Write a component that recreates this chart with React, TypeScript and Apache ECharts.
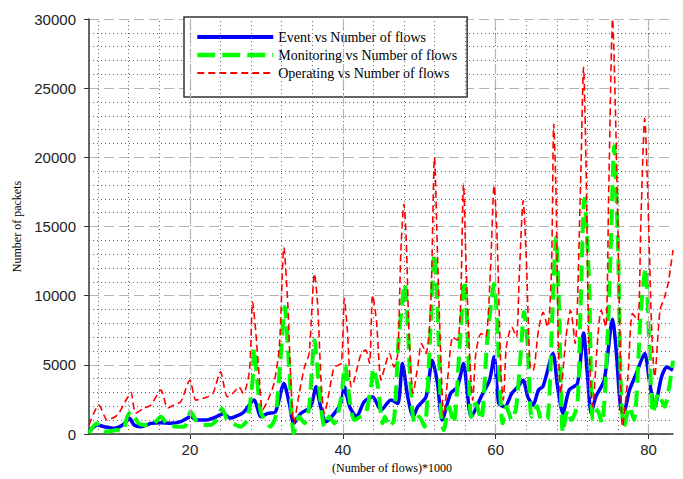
import React, { useEffect, useRef } from "react";
import * as echarts from "echarts";

// x values are (Number of flows)/1000
const eventFlows = [6.8, 7.9, 8.8, 10.1, 11.2, 12.1, 12.7, 13.6, 14.9, 16.2, 17.5, 18.8, 20.1, 20.9, 22.2, 23.5, 24.4, 25.2, 26.1, 27.0, 28.4, 29.3, 30.2, 31.2, 32.3, 33.0, 33.6, 34.5, 35.8, 36.5, 37.1, 37.8, 38.9, 39.8, 40.2, 40.9, 41.8, 42.8, 43.9, 45.0, 46.3, 47.2, 47.8, 48.5, 49.2, 49.8, 50.9, 51.7, 52.4, 53.0, 54.1, 55.0, 55.8, 56.3, 56.8, 58.1, 59.2, 59.8, 60.4, 61.2, 62.1, 62.9, 63.6, 64.2, 64.9, 65.6, 66.2, 67.5, 68.1, 68.8, 69.6, 70.7, 71.5, 72.0, 72.5, 73.1, 74.2, 75.3, 75.8, 76.4, 76.8, 77.5, 78.4, 79.5, 80.1, 80.8, 81.7, 82.4, 83.2];
const eventPackets = [170, 650, 530, 410, 650, 1130, 650, 530, 770, 820, 770, 890, 1250, 1010, 1010, 1250, 1490, 1150, 1300, 1550, 2450, 1250, 1490, 1610, 3650, 2210, 770, 1490, 1970, 3410, 1970, 890, 1490, 2330, 3410, 1970, 1250, 2330, 2690, 1730, 2450, 2210, 5100, 2690, 1250, 1970, 2690, 5340, 3650, 1010, 2930, 3410, 5100, 2930, 1250, 2690, 3890, 5580, 2210, 1970, 2930, 3410, 3890, 2690, 2100, 3170, 3450, 5820, 3410, 1490, 3170, 3650, 7300, 4330, 1490, 2690, 3890, 8300, 5820, 1730, 1700, 3170, 4370, 5820, 3890, 1970, 4130, 4850, 4610];

const monitoringFlows = [6.8, 7.8, 8.4, 9.2, 10.5, 11.2, 11.8, 12.3, 13.3, 14.0, 15.2, 16.2, 17.1, 18.4, 19.3, 20.1, 20.9, 21.8, 22.7, 23.5, 24.2, 24.9, 25.8, 26.6, 27.5, 28.2, 28.4, 28.8, 29.3, 29.9, 30.5, 31.2, 31.9, 32.4, 33.0, 33.6, 34.3, 35.0, 35.6, 36.3, 36.9, 37.6, 38.2, 38.9, 39.8, 40.3, 40.9, 41.5, 42.3, 43.0, 43.7, 44.0, 44.6, 45.2, 45.5, 46.1, 46.7, 47.3, 47.8, 48.1, 48.5, 48.9, 49.4, 50.0, 50.7, 51.3, 52.0, 52.4, 52.9, 53.2, 53.9, 54.5, 55.2, 55.9, 56.3, 56.8, 57.4, 58.1, 58.9, 59.8, 60.3, 60.9, 61.4, 62.1, 62.7, 63.4, 63.7, 64.2, 64.7, 65.4, 66.0, 66.8, 67.4, 67.9, 68.3, 68.8, 69.4, 69.9, 70.7, 71.1, 71.6, 72.2, 72.7, 73.3, 73.9, 74.6, 75.1, 75.5, 76.0, 76.4, 76.8, 77.5, 78.1, 79.0, 79.6, 80.1, 80.6, 81.3, 82.1, 82.7, 83.2];
const monitoringPackets = [50, 770, 290, 170, 290, 200, 1250, 1610, 770, 650, 700, 1250, 650, 530, 530, 1610, 890, 650, 650, 1010, 1850, 1010, 700, 530, 1010, 3890, 6180, 3890, 1490, 1010, 530, 1250, 5820, 9180, 4610, 50, 1250, 770, 1970, 6780, 3410, 530, 1250, 770, 2690, 4970, 2450, 1010, 1250, 1490, 3410, 4740, 3410, 770, 1250, 530, 1010, 6780, 9660, 10860, 7980, 3170, 770, 1250, 530, 5580, 13030, 9180, 1010, 290, 1970, 770, 5580, 11100, 7740, 1250, 2210, 1010, 6780, 10860, 6780, 770, 1970, 1010, 1970, 6780, 8820, 6300, 1250, 2000, 1010, 1100, 8460, 14230, 8940, 100, 1730, 1010, 2210, 8940, 17000, 11340, 1010, 1730, 770, 6540, 14230, 20800, 13750, 2930, 530, 1970, 1010, 8940, 12000, 6540, 1490, 2930, 1970, 3410, 5300];

const operatingFlows = [6.8, 8.1, 9.2, 10.5, 11.8, 12.3, 12.9, 14.0, 14.9, 16.2, 17.1, 17.9, 18.8, 20.0, 20.8, 21.9, 23.0, 24.0, 24.9, 25.8, 26.4, 27.0, 27.8, 28.2, 28.6, 29.1, 29.5, 30.2, 31.0, 31.7, 32.3, 32.8, 33.2, 33.6, 34.3, 35.0, 35.6, 36.3, 36.7, 37.2, 37.6, 38.5, 38.9, 39.8, 40.2, 40.6, 41.1, 41.5, 42.4, 43.0, 43.5, 43.9, 44.4, 45.0, 45.5, 46.1, 46.7, 47.2, 47.6, 48.0, 48.3, 48.7, 49.2, 49.8, 50.3, 50.9, 51.5, 52.0, 52.4, 52.9, 53.2, 53.7, 54.4, 55.0, 55.4, 55.8, 56.1, 56.6, 57.0, 57.4, 58.1, 58.7, 59.3, 59.8, 60.2, 60.7, 61.0, 61.4, 62.1, 62.7, 63.1, 63.6, 64.0, 64.5, 64.9, 65.6, 66.2, 66.8, 67.3, 67.6, 67.9, 68.2, 68.5, 69.2, 69.8, 70.4, 71.1, 71.5, 71.8, 72.2, 72.7, 73.3, 73.8, 74.4, 74.8, 75.3, 75.7, 76.2, 76.6, 77.3, 77.9, 78.6, 79.0, 79.5, 79.9, 80.4, 80.8, 81.5, 82.1, 82.6, 83.2];
const operatingPackets = [650, 2090, 1010, 1370, 2600, 3000, 1510, 1870, 2090, 3170, 1870, 2090, 2330, 3890, 2450, 2600, 2930, 4490, 2690, 3050, 3410, 2930, 4610, 9540, 7500, 3890, 1730, 2450, 3650, 6300, 13500, 9440, 3890, 790, 2950, 4850, 5840, 11590, 9440, 3410, 1490, 3890, 4850, 5100, 9790, 7500, 3410, 3890, 5820, 6060, 5100, 10020, 8220, 3890, 4850, 5820, 4850, 5820, 13270, 16630, 13990, 6780, 2930, 4850, 6540, 5820, 9180, 19990, 12790, 4370, 1250, 3890, 7020, 6780, 9180, 18070, 12790, 5580, 2450, 5820, 7260, 7020, 11590, 17950, 13990, 4370, 2450, 6300, 7740, 7020, 11590, 16870, 12790, 4850, 4600, 7500, 8800, 7740, 11820, 22400, 17350, 6540, 2930, 7020, 8940, 6540, 17830, 26500, 20230, 6540, 1970, 6540, 8940, 7740, 17830, 30000, 22640, 8940, 530, 4130, 8700, 8220, 15430, 22800, 17350, 7740, 4130, 8940, 9900, 11000, 13300];

const xMin = 6.8;
const xMax = 83.2;
const xLabelTicks = [20, 40, 60, 80];
const xMinorGrid = [8, 12, 16, 20, 24, 28, 32, 36, 40, 44, 48, 52, 56, 60, 64, 68, 72, 76, 80];
const seriesNames = ["Event vs Number of flows", "Monitoring vs Number of flows", "Operating vs Number of flows"];

const zip = (xs: number[], ys: number[]) => xs.map((x, i) => [x, ys[i]]);

const eventLine = { color: "#0000ff", width: 3.5, type: "solid" as any };
const monitoringLine = { color: "#00ff00", width: 4, type: [16, 8] as any };
const operatingLine = { color: "#ff0000", width: 1.6, type: [7, 4] as any };

export default function App() {
  const ref = useRef<HTMLDivElement>(null);
  useEffect(() => {
    if (!ref.current) return;
    const chart = echarts.init(ref.current, null, { renderer: "svg" });
    const gridLines = [
      ...xMinorGrid.map((v) => ({ xAxis: v, lineStyle: { color: "#666", width: 1, type: [1, 3] } })),
      ...xLabelTicks.map((v) => ({ xAxis: v, lineStyle: { color: "#b4b4b4", width: 1.2, type: [10, 5] } })),
    ];
    const hiddenSymbol = { color: "rgba(0,0,0,0)", borderWidth: 0, opacity: 0 };
    chart.setOption({
      animation: false,
      backgroundColor: "#fff",
      grid: { left: 89, right: 10, top: 19, bottom: 45, containLabel: false },
      legend: {
        data: [
          { name: seriesNames[0], itemStyle: hiddenSymbol, lineStyle: { ...eventLine, width: 4 } },
          { name: seriesNames[1], itemStyle: hiddenSymbol, lineStyle: { ...monitoringLine, width: 4.5, type: [18, 7] } },
          { name: seriesNames[2], itemStyle: hiddenSymbol, lineStyle: { ...operatingLine, width: 2 } },
        ],
        orient: "vertical",
        left: 184,
        top: 17,
        padding: [12, 10, 16, 11],
        itemWidth: 76,
        itemHeight: 14,
        itemGap: 2,
        backgroundColor: "#fff",
        borderColor: "#333",
        borderWidth: 1.5,
        itemStyle: hiddenSymbol,
        textStyle: { fontFamily: "Liberation Serif", fontSize: 14, color: "#000", lineHeight: 16 },
      },
      xAxis: {
        type: "value",
        min: xMin,
        max: xMax,
        name: "(Number of flows)*1000",
        nameLocation: "middle",
        nameGap: 27,
        nameTextStyle: { fontFamily: "Liberation Serif", fontSize: 12, color: "#000", padding: [0, 0, 0, 22] },
        axisLine: { show: true, onZero: false, lineStyle: { color: "#333", width: 1.5 } },
        axisTick: { show: true, length: 5, customValues: xLabelTicks, lineStyle: { color: "#333" } },
        axisLabel: {
          customValues: xLabelTicks,
          margin: 8,
          fontFamily: "Liberation Sans",
          fontSize: 15,
          color: "#222",
        },
        splitLine: { show: false },
      },
      yAxis: {
        type: "value",
        min: 0,
        max: 30000,
        interval: 5000,
        name: "Number of packets",
        nameLocation: "middle",
        nameGap: 64,
        nameTextStyle: { fontFamily: "Liberation Serif", fontSize: 12, color: "#000" },
        axisLine: { show: true, lineStyle: { color: "#333", width: 1.5 } },
        axisTick: { show: true, length: 5, lineStyle: { color: "#333" } },
        axisLabel: {
          margin: 13,
          fontFamily: "Liberation Sans",
          fontSize: 15,
          color: "#222",
          formatter: (v: number) => String(v),
        },
        splitLine: { show: true, lineStyle: { color: "#b4b4b4", width: 1.2, type: [10, 5] } },
        minorTick: { show: false, splitNumber: 5 },
        minorSplitLine: { show: true, lineStyle: { color: "#666", width: 1, type: [1, 3] } },
      },
      series: [
        {
          name: "grid",
          type: "line",
          data: [[xMin, 0]],
          showSymbol: false,
          symbol: "none",
          lineStyle: { opacity: 0 },
          silent: true,
          z: 1,
          markLine: {
            silent: true,
            symbol: ["none", "none"],
            label: { show: false },
            data: gridLines,
          },
        },
        {
          name: seriesNames[0],
          type: "line",
          data: zip(eventFlows, eventPackets),
          symbol: "none",
          smooth: 0.25,
          color: "#0000ff",
          lineStyle: eventLine,
          z: 3,
        },
        {
          name: seriesNames[1],
          type: "line",
          data: zip(monitoringFlows, monitoringPackets),
          symbol: "none",
          smooth: 0.25,
          color: "#00ff00",
          lineStyle: monitoringLine,
          z: 4,
        },
        {
          name: seriesNames[2],
          type: "line",
          data: zip(operatingFlows, operatingPackets),
          symbol: "none",
          smooth: 0.25,
          color: "#ff0000",
          lineStyle: operatingLine,
          z: 5,
        },
      ],
    });
    return () => chart.dispose();
  }, []);
  return <div ref={ref} style={{ position: "absolute", left: 0, top: 0, width: 683, height: 479 }} />;
}
